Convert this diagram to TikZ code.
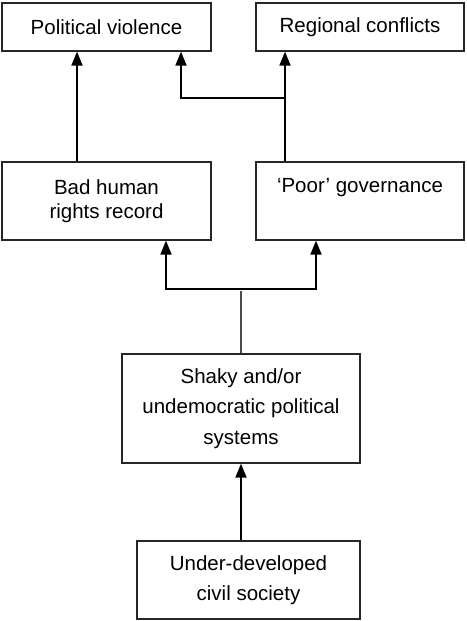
\documentclass[tikz,border=0pt]{standalone}
\usepackage{fontspec}
\setmainfont{Liberation Sans}
\usetikzlibrary{arrows.meta}
\begin{document}
\begin{tikzpicture}[x=0.5pt,y=-0.5pt,
    box/.style={draw=black!85,line width=0.65pt,align=center,inner sep=0pt,
        font=\fontsize{10.25}{15.3}\selectfont},
    tip/.tip={Triangle[width=5.5pt,length=7pt]},
    arr/.style={line width=0.95pt,-tip},
    stem/.style={black!70,line width=0.6pt}]
    \useasboundingbox (0,0) rectangle (466,621);
    \node [box,minimum width=104.5pt,minimum height=24pt] (pv) at (106.5,27) {Political violence};
    \node [box,minimum width=104pt,minimum height=24pt] (rc) at (360,27) {Regional conflicts};
    \node [box,minimum width=104.5pt,minimum height=39pt,font=\fontsize{10.25}{12}\selectfont] (bhr) at (106.5,201) {Bad human\\rights record};
    \node [box,minimum width=104pt,minimum height=39pt,font=\fontsize{10.25}{12}\selectfont] (pg) at (360,201) {‘Poor’ governance\\\strut};
    \node [box,minimum width=119pt,minimum height=54.5pt] (sys) at (241,408.5) {Shaky and/or\\undemocratic political\\systems};
    \node [box,minimum width=111.5pt,minimum height=39pt] (civ) at (248.5,580) {Under-developed\\civil society};
    \coordinate (j1) at (285,98);
    \coordinate (j2) at (181,98);
    \coordinate (s1) at (166,289);
    \coordinate (s2) at (316,289);
    \coordinate (s3) at (241,291);
    \draw [arr] (bhr.north -| 77,0) -- (pv.south -| 77,0);
    \draw [arr] (pg.north -| j1) -- (rc.south -| j1);
    \draw [arr] (j1) -- (j2) -- (pv.south -| j2);
    \draw [arr,tip-tip] (bhr.south -| s1) -- (s1) -- (s2) -- (pg.south -| s2);
    \draw [stem] (sys.north) -- (s3);
    \draw [arr] (civ.north -| sys.north) -- (sys.south);
\end{tikzpicture}
\end{document}
